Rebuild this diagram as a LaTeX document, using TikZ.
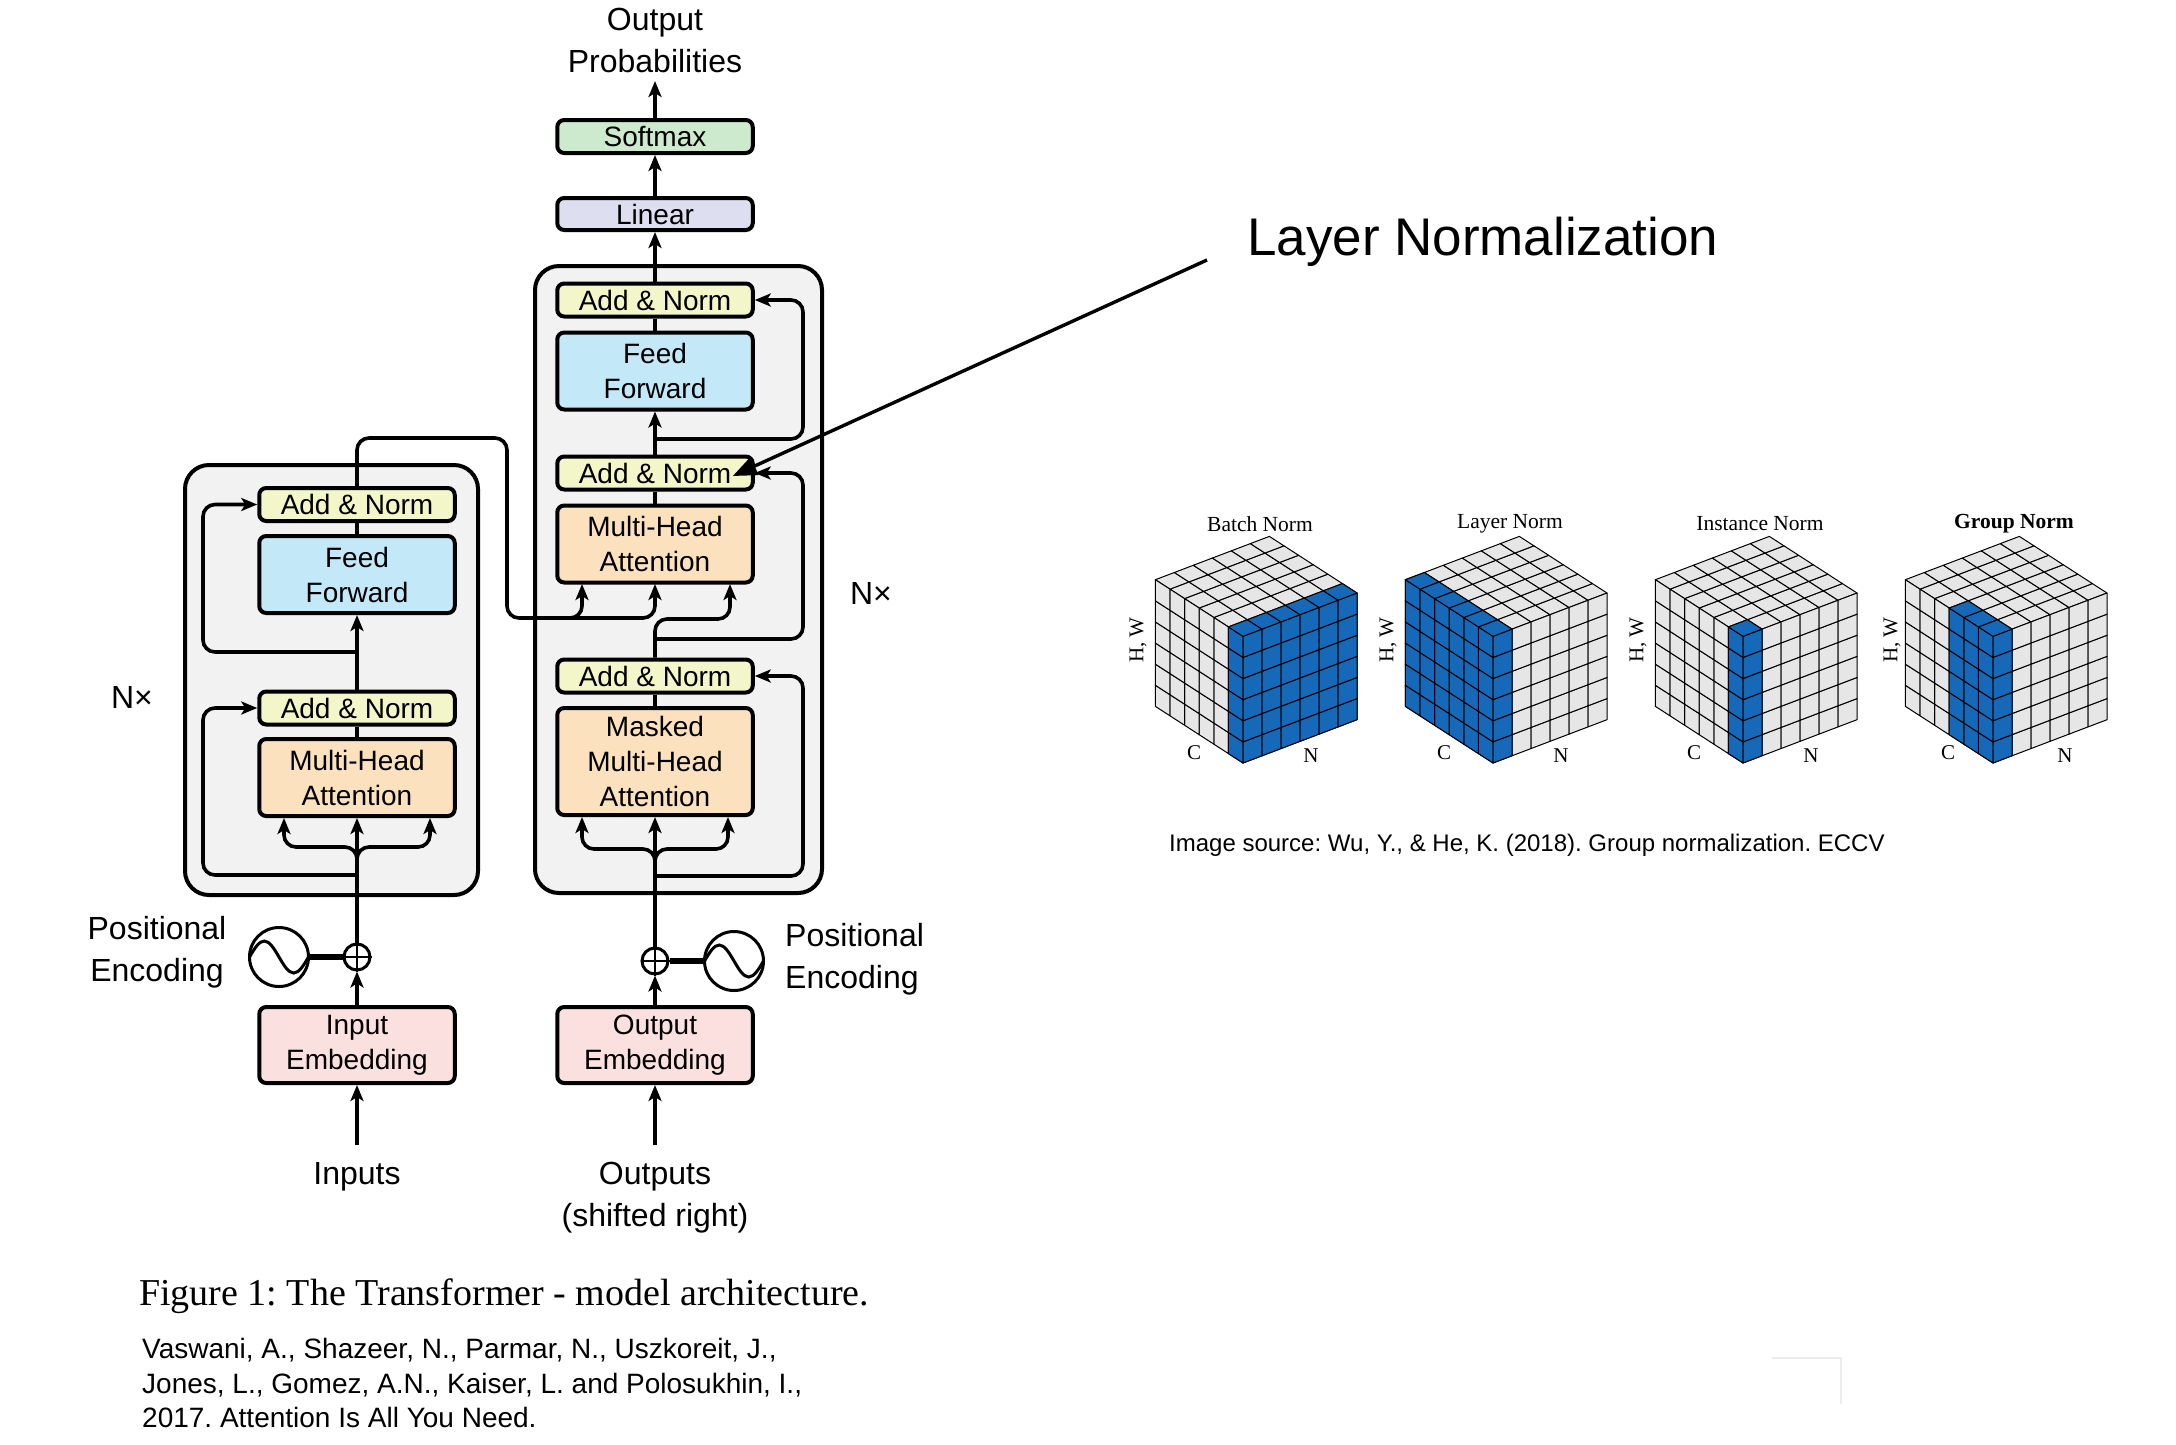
\documentclass[tikz,border=0pt]{standalone}
\usepackage{fontspec}
\setmainfont{Liberation Sans}
\newfontfamily\serifff{Liberation Serif}
\usetikzlibrary{arrows.meta,calc}
\frenchspacing
\definecolor{cAdd}{RGB}{242,246,200}
\definecolor{cFF}{RGB}{195,232,247}
\definecolor{cMHA}{RGB}{252,225,190}
\definecolor{cEmb}{RGB}{251,224,224}
\definecolor{cSoft}{RGB}{205,234,206}
\definecolor{cLin}{RGB}{221,222,240}
\definecolor{cOuter}{RGB}{242,242,242}
\definecolor{cBlue}{RGB}{22,104,184}
\definecolor{cCell}{RGB}{230,230,230}
\newcommand\fs[2]{\fontsize{#1}{#2}\selectfont}
\newcommand\cubeL[2]{\filldraw[cellst,fill=cBlue] (#1,0,#2) -- ++(1,0,0) -- ++(0,0,1) -- ++(-1,0,0) -- cycle;}
\newcommand\cubeR[2]{\filldraw[cellst,fill=cBlue] (0,#1,#2) -- ++(0,1,0) -- ++(0,0,1) -- ++(0,-1,0) -- cycle;}
\newcommand\cubeT[2]{\filldraw[cellst,fill=cBlue] (#1,#2,6) -- ++(1,0,0) -- ++(0,1,0) -- ++(-1,0,0) -- cycle;}
\newcommand\cubeGrid{%
  \foreach \i in {0,...,5}{\foreach \j in {0,...,5}{%
    \filldraw[cellst] (\i,0,\j) -- ++(1,0,0) -- ++(0,0,1) -- ++(-1,0,0) -- cycle;
    \filldraw[cellst] (0,\i,\j) -- ++(0,1,0) -- ++(0,0,1) -- ++(0,-1,0) -- cycle;
    \filldraw[cellst] (\i,\j,6) -- ++(1,0,0) -- ++(0,1,0) -- ++(-1,0,0) -- cycle;
  }}}
\newcommand\cubeLabels[5]{%
  \node[cubetitle] (#1title) at ($(#2,#3)+(17,-239)$) {#4#5};
  \node[cubetxt, rotate=90] (#1hw) at ($(#2,#3)+(-105,-123)$) {H, W};
  \node[cubetxt] (#1c) at ($(#2,#3)+(-49,-10)$) {C};
  \node[cubetxt] (#1n) at ($(#2,#3)+(68,-7)$) {N};}
\begin{document}
\begin{tikzpicture}[x=1pt,y=-1pt,
  blk/.style={draw, line width=4pt, rounded corners=7pt, minimum width=195.5pt, inner sep=0pt, align=center, font=\fs{28}{35}},
  an/.style={blk, fill=cAdd, minimum height=33pt},
  ffb/.style={blk, fill=cFF, minimum height=77pt},
  mha/.style={blk, fill=cMHA, minimum height=77pt},
  emb/.style={blk, fill=cEmb, minimum height=76pt},
  outerbox/.style={draw, fill=cOuter, line width=4pt, rounded corners=24pt, inner sep=0pt},
  conn/.style={line width=3.6pt, rounded corners=12pt},
  arr/.style={conn, -{Stealth[length=16pt,width=13pt,inset=4pt]}},
  lbl/.style={inner sep=0pt, align=center, font=\fs{32}{42}},
  circ/.style={circle, draw, line width=3pt, inner sep=0pt, fill=white},
  cellst/.style={draw=black, line width=1pt, fill=cCell, line join=round},
  cubetitle/.style={inner sep=0pt, font=\serifff\fs{21.5}{25}},
  cubetxt/.style={inner sep=0pt, font=\serifff\fs{21}{25}},
  txt/.style={inner sep=0pt, align=left}
]
\useasboundingbox (0,0) rectangle (2176,1444);
\fill[white] (0,0) rectangle (2176,1444);

% outer boxes
\node[outerbox, minimum width=293pt, minimum height=430pt] (encbox) at (331.5,680) {};
\node[outerbox, minimum width=287pt, minimum height=627pt] (decbox) at (678.5,579.5) {};

% encoder
\node[an]  (eAN2) at (357,504.5) {Add \& Norm};
\node[ffb] (eFF)  at (357,574.5) {Feed\\Forward};
\node[an]  (eAN1) at (357,708) {Add \& Norm};
\node[mha] (eMHA) at (357,777.5) {Multi-Head\\Attention};
\node[emb] (eEmb) at (357,1045) {Input\\Embedding};
\node[circ, minimum size=26pt] (ePlus) at (357,957) {};
\node[circ, minimum size=59pt] (eSin) at (279,957) {};

% decoder
\node[blk, fill=cSoft, minimum height=33pt] (soft) at (655,136.5) {Softmax};
\node[blk, fill=cLin, minimum height=32pt] (lin) at (655,214) {Linear};
\node[an]  (dAN3) at (655,300) {Add \& Norm};
\node[ffb] (dFF)  at (655,371) {Feed\\Forward};
\node[an]  (dAN2) at (655,473) {Add \& Norm};
\node[mha] (dMHA) at (655,544) {Multi-Head\\Attention};
\node[an]  (dAN1) at (655,676) {Add \& Norm};
\node[mha, minimum height=107pt] (dMMHA) at (655,761.5) {Masked\\Multi-Head\\Attention};
\node[emb] (dEmb) at (655,1045) {Output\\Embedding};
\node[circ, minimum size=26pt] (dPlus) at (655,961) {};
\node[circ, minimum size=59pt] (dSin) at (734,961) {};

% labels
\node[lbl] (outprob) at (655,40) {Output\\Probabilities};
\coordinate (outTip) at (655,81);
\node[lbl] (inputs) at (357,1177) {Inputs};
\coordinate (inTail) at (357,1145);
\node[lbl] (outputs) at (655,1198) {Outputs\\(shifted right)};
\coordinate (outTail) at (655,1145);
\node[lbl] (pe1) at (157,952) {Positional\\Encoding};
\node[lbl, align=left, anchor=west] (pe2) at (785,959) {Positional\\Encoding};
\node[lbl] (nx1) at (132,697) {N×};
\node[lbl] (nx2) at (871,593) {N×};

% encoder connectors
\draw[arr] (inTail) -- (eEmb.south);
\draw[arr] (eEmb.north) -- (ePlus.south);
\draw[arr] (ePlus.north) -- (eMHA.south);
\draw[arr] (357,872) -- (357,847) -- (284,847) -- (284,818);
\draw[arr] (357,872) -- (357,847) -- (430,847) -- (430,818);
\draw[arr] (357,875) -- (203,875) -- (203,708) -- (eAN1.west);
\draw[conn] (eMHA.north) -- (eAN1.south);
\draw[arr] (eAN1.north) -- (eFF.south);
\draw[arr] (357,652) -- (203,652) -- (203,504.5) -- (eAN2.west);
\draw[conn] (eFF.north) -- (eAN2.south);
\draw[arr] (eAN2.north) -- (357,438) -- (507,438) -- (507,618) -- (582,618) -- (582,584);
\draw[arr] (560,618) -- (655,618) -- (655,584);
\draw[line width=6pt] (eSin.east) -- (ePlus.west);
\draw[line width=2.8pt] (ePlus.north) -- (ePlus.south) (ePlus.west) -- (ePlus.east);
\draw[line width=3pt] ($(eSin.center)+(-29.5,0)$) sin ++(14.75,-16) cos ++(14.75,16) sin ++(14.75,16) cos ++(14.75,-16);

% decoder connectors
\draw[arr] (outTail) -- (dEmb.south);
\draw[arr] (dEmb.north) -- (dPlus.south);
\draw[arr] (dPlus.north) -- (dMMHA.south);
\draw[arr] (655,872) -- (655,849) -- (582,849) -- (582,817);
\draw[arr] (655,872) -- (655,849) -- (728,849) -- (728,817);
\draw[arr] (655,876) -- (803,876) -- (803,676) -- (dAN1.east);
\draw[conn] (dMMHA.north) -- (dAN1.south);
\draw[arr] (dAN1.north) -- (655,619) -- (730,619) -- (730,584);
\draw[arr] (655,639) -- (803,639) -- (803,473) -- (dAN2.east);
\draw[conn] (dMHA.north) -- (dAN2.south);
\draw[arr] (dAN2.north) -- (dFF.south);
\draw[arr] (655,439) -- (803,439) -- (803,300) -- (dAN3.east);
\draw[conn] (dFF.north) -- (dAN3.south);
\draw[arr] (dAN3.north) -- (lin.south);
\draw[arr] (lin.north) -- (soft.south);
\draw[arr] (soft.north) -- (outTip);
\draw[line width=6pt] (dPlus.east) -- (dSin.west);
\draw[line width=2.8pt] (dPlus.north) -- (dPlus.south) (dPlus.west) -- (dPlus.east);
\draw[line width=3pt] ($(dSin.center)+(-29.5,0)$) sin ++(14.75,-16) cos ++(14.75,16) sin ++(14.75,16) cos ++(14.75,-16);

% Layer normalization callout
\node[inner sep=0pt, font=\fs{53}{60}, anchor=base west] (lnlbl) at (1247,255) {Layer Normalization};
\coordinate (lnTail) at (1207,260);
\draw[line width=3.4pt, -{Triangle[length=24pt,width=19pt]}] (lnTail) -- ($(dAN2.east)+(-22,3)$);

% cubes
\begin{scope}[shift={(1243,763)}, x={(-14.61pt,9.44pt)}, y={(19pt,7.22pt)}, z={(0pt,21.11pt)}]
  \cubeGrid
  \foreach \h in {0,...,5}{\cubeL{0}{\h}}
  \foreach \n in {0,...,5}{\foreach \h in {0,...,5}{\cubeR{\n}{\h}}}
  \foreach \n in {0,...,5}{\cubeT{0}{\n}}
\end{scope}
\begin{scope}[shift={(1493,763)}, x={(-14.61pt,9.44pt)}, y={(19pt,7.22pt)}, z={(0pt,21.11pt)}]
  \cubeGrid
  \foreach \c in {0,...,5}{\foreach \h in {0,...,5}{\cubeL{\c}{\h}}}
  \foreach \h in {0,...,5}{\cubeR{0}{\h}}
  \foreach \c in {0,...,5}{\cubeT{\c}{0}}
\end{scope}
\begin{scope}[shift={(1743,763)}, x={(-14.61pt,9.44pt)}, y={(19pt,7.22pt)}, z={(0pt,21.11pt)}]
  \cubeGrid
  \foreach \h in {0,...,5}{\cubeL{0}{\h}}
  \foreach \h in {0,...,5}{\cubeR{0}{\h}}
  \cubeT{0}{0}
\end{scope}
\begin{scope}[shift={(1993,763)}, x={(-14.61pt,9.44pt)}, y={(19pt,7.22pt)}, z={(0pt,21.11pt)}]
  \cubeGrid
  \foreach \c in {0,1,2}{\foreach \h in {0,...,5}{\cubeL{\c}{\h}}}
  \foreach \h in {0,...,5}{\cubeR{0}{\h}}
  \foreach \c in {0,1,2}{\cubeT{\c}{0}}
\end{scope}
\cubeLabels{bn}{1243}{763}{}{Batch Norm}
\cubeLabels{ln}{1493}{763}{}{Layer Norm}
\cubeLabels{in}{1743}{763}{}{Instance Norm}
\cubeLabels{gn}{1997}{763}{\bfseries}{Group Norm}

\node[txt, anchor=west, font=\fs{24}{29}] (imgsrc) at (1169,845) {Image source: Wu, Y., \& He, K. (2018). Group normalization. ECCV};

% captions
\node[txt, anchor=west, font=\serifff\fs{38}{44}] (caption) at (139,1296) {Figure 1: The Transformer - model architecture.};
\node[txt, anchor=west, font=\fs{28}{34.5}] (cite) at (142,1383) {Vaswani, A., Shazeer, N., Parmar, N., Uszkoreit, J.,\\Jones, L., Gomez, A.N., Kaiser, L. and Polosukhin, I.,\\2017. Attention Is All You Need.};

% faint artifact
\draw[line width=2pt, color=black!7] (1772,1358) -- (1841,1358) -- (1841,1404);
\end{tikzpicture}
\end{document}
